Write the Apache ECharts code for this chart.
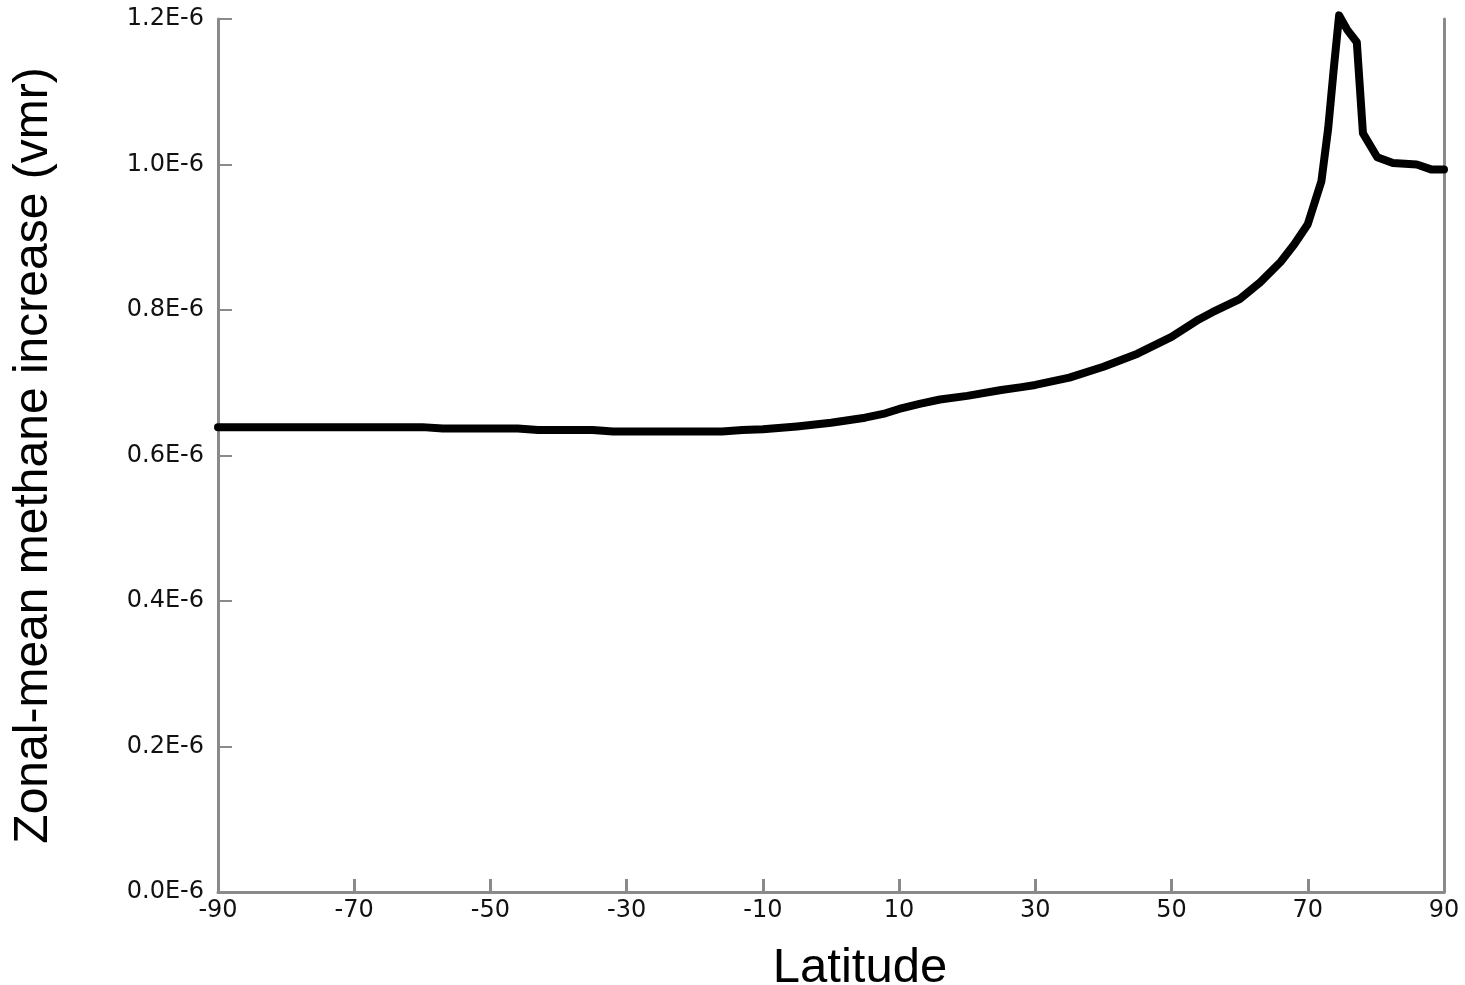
<!DOCTYPE html>
<html>
<head>
<meta charset="utf-8">
<script src="https://cdn.jsdelivr.net/npm/echarts@6/dist/echarts.min.js"></script>
<style>html,body{margin:0;padding:0;background:#fff;}#c{width:1465px;height:985px;}</style>
</head>
<body>
<div id="c"></div>
<script>
// Latitude (degrees) and zonal-mean methane increase (units of 1E-6 vmr)
const latitudes = [-90,-80,-70,-60,-57,-50,-46,-43,-35,-32,-20,-16,-13,-10,-5,0,5,8,10,13,16,20,25,28,30,35,40,45,50,54,56,60,63,66,68,70,72,73,73.8,74.6,75.8,77.2,78.1,80.2,82.5,86,88.2,90];
const methaneE6 = [0.639,0.639,0.639,0.639,0.637,0.637,0.637,0.635,0.635,0.633,0.633,0.633,0.635,0.636,0.640,0.645,0.652,0.658,0.664,0.671,0.677,0.682,0.690,0.694,0.697,0.707,0.722,0.740,0.763,0.787,0.797,0.815,0.838,0.866,0.890,0.918,0.977,1.05,1.13,1.205,1.185,1.168,1.043,1.010,1.002,1.000,0.993,0.993];
const xTicks = [-90,-70,-50,-30,-10,10,30,50,70,90];
const yTicksE6 = [0.0,0.2,0.4,0.6,0.8,1.0,1.2];
const xTitle = 'Latitude';
const yTitle = 'Zonal-mean methane increase (vmr)';

const chart = echarts.init(document.getElementById('c'));
const axisGray = '#8a8a8a';
const tickFont = {fontFamily:'DejaVu Sans', fontSize:24, color:'#111'};
chart.setOption({
  animation:false,
  grid:{left:218, right:21, top:19, bottom:93, containLabel:false, outerBoundsMode:'none'},
  xAxis:{
    type:'value', min:-90, max:90, interval:20,
    axisLine:{show:true, onZero:false, lineStyle:{color:axisGray, width:3}},
    axisTick:{show:true, inside:true, length:13, lineStyle:{color:axisGray, width:3}},
    axisLabel:Object.assign({margin:7, formatter:v => xTicks.includes(v) ? String(v) : ''}, tickFont),
    splitLine:{show:false},
    name:xTitle, nameLocation:'middle', nameGap:52,
    nameTextStyle:{fontFamily:'Liberation Sans', fontSize:49, color:'#000', padding:[0,0,0,58]}
  },
  yAxis:[{
    type:'value', min:0, max:1.2, interval:0.2,
    axisLine:{show:true, onZero:false, lineStyle:{color:axisGray, width:3}},
    axisTick:{show:true, inside:true, length:14, lineStyle:{color:axisGray, width:2}},
    axisLabel:Object.assign({margin:14, formatter:v => {
      const t = yTicksE6.find(x => Math.abs(x - v) < 1e-9);
      return t === undefined ? '' : t.toFixed(1) + 'E-6';
    }}, tickFont),
    splitLine:{show:false},
    name:yTitle, nameLocation:'middle', nameGap:160, nameRotate:90,
    nameTextStyle:{fontFamily:'Liberation Sans', fontSize:48, color:'#000'}
  },{
    type:'value', min:0, max:1.2, position:'right',
    axisLine:{show:true, onZero:false, lineStyle:{color:axisGray, width:3}},
    axisTick:{show:false}, axisLabel:{show:false}, splitLine:{show:false}
  }],
  series:[{
    type:'line', yAxisIndex:0, clip:false, showSymbol:false, symbol:'none',
    data:latitudes.map((x,i) => [x, methaneE6[i]]),
    lineStyle:{color:'#000', width:8, join:'round', cap:'round'}
  }]
});
</script>
</body>
</html>
